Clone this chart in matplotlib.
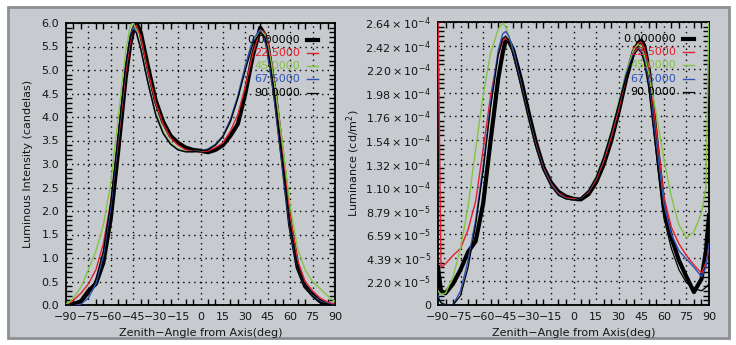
import numpy as np
import matplotlib.pyplot as plt
from matplotlib.patches import Rectangle
from matplotlib.ticker import MultipleLocator, FixedLocator

# angles (deg) shared by all series
ang = [-90, -88, -85, -80, -75, -70, -65, -60, -55, -50, -47, -45, -43, -40, -35, -30, -25,
       -20, -15, -10, -5, 0, 5, 10, 15, 20, 25, 30, 35, 40, 43, 45, 47, 50, 55, 60, 65, 70,
       75, 80, 85, 88, 90]

labels = ['0.000000', '22.5000', '45.0000', '67.5000', '90.0000']
colors = ['#000000', '#e3202c', '#84c444', '#2d52b8', '#000000']
widths = [3.0, 1.0, 1.0, 1.0, 0.9]

# luminous intensity (candelas)
li_0 = [0.0, 0.0, 0.02, 0.08, 0.3, 0.45, 0.9, 1.85, 3.3, 4.85, 5.55, 5.85, 6.0, 5.8, 5.05, 4.35, 3.9,
        3.6, 3.45, 3.35, 3.3, 3.28, 3.25, 3.3, 3.4, 3.6, 3.85, 4.5, 5.3, 5.9, 5.75, 5.5, 5.1, 4.45,
        3.1, 1.7, 0.8, 0.4, 0.22, 0.08, 0.02, 0.0, 0.0]
li_22 = [0.02, 0.04, 0.1, 0.25, 0.45, 0.75, 1.3, 2.2, 3.5, 4.95, 5.6, 5.9, 5.95, 5.7, 4.95, 4.3, 3.85,
         3.55, 3.4, 3.3, 3.27, 3.26, 3.28, 3.35, 3.45, 3.7, 4.05, 4.65, 5.35, 5.85, 5.8, 5.6, 5.25, 4.6,
         3.3, 1.9, 0.95, 0.5, 0.3, 0.15, 0.06, 0.03, 0.02]
li_45 = [0.03, 0.05, 0.15, 0.38, 0.75, 1.15, 1.7, 2.6, 4.0, 5.4, 5.95, 6.0, 5.85, 5.5, 4.75, 4.1, 3.7,
         3.45, 3.32, 3.27, 3.26, 3.28, 3.32, 3.42, 3.6, 3.9, 4.4, 5.05, 5.6, 5.85, 5.75, 5.5, 5.2, 4.6,
         3.4, 2.1, 1.2, 0.75, 0.5, 0.35, 0.2, 0.12, 0.08]
li_67 = [0.0, 0.0, 0.0, 0.02, 0.15, 0.45, 1.05, 2.1, 3.6, 5.1, 5.75, 5.9, 5.8, 5.45, 4.7, 4.05, 3.65,
         3.42, 3.3, 3.26, 3.26, 3.28, 3.32, 3.42, 3.6, 3.95, 4.45, 5.1, 5.65, 5.85, 5.65, 5.35, 4.95, 4.25,
         2.9, 1.6, 0.8, 0.4, 0.2, 0.08, 0.03, 0.01, 0.0]
li_90 = [0.0, 0.0, 0.01, 0.05, 0.22, 0.55, 1.15, 2.2, 3.65, 5.1, 5.7, 5.85, 5.8, 5.45, 4.7, 4.05, 3.65,
         3.42, 3.3, 3.26, 3.26, 3.28, 3.3, 3.4, 3.58, 3.9, 4.4, 5.0, 5.55, 5.8, 5.7, 5.45, 5.05, 4.35,
         3.0, 1.65, 0.8, 0.4, 0.18, 0.06, 0.02, 0.0, 0.0]

# luminance, in units of 2.2e-5 cd/m^2
lu_0 = [1.6, 0.6, 0.5, 0.9, 1.5, 2.25, 2.7, 4.3, 7.0, 9.6, 10.7, 11.25, 11.2, 10.8, 9.6, 8.2, 6.9,
        5.85, 5.2, 4.8, 4.6, 4.5, 4.48, 4.7, 5.2, 5.95, 6.95, 8.2, 9.6, 10.75, 11.1, 11.2, 11.0, 10.0,
        7.0, 4.1, 2.85, 1.9, 1.2, 0.55, 1.1, 2.3, 3.8]
lu_22 = [12.5, 1.6, 1.75, 2.1, 2.4, 3.2, 4.4, 6.6, 8.9, 10.6, 11.2, 11.3, 11.2, 10.7, 9.4, 8.0, 6.8,
         5.8, 5.15, 4.75, 4.55, 4.5, 4.55, 4.8, 5.3, 6.1, 7.1, 8.3, 9.7, 10.8, 11.1, 11.15, 10.9, 10.1,
         7.4, 4.6, 3.3, 2.6, 2.1, 1.7, 1.35, 1.8, 2.4]
lu_45 = [0.6, 0.45, 0.5, 1.2, 2.4, 4.2, 6.6, 8.9, 10.7, 11.7, 11.95, 11.8, 11.4, 10.7, 9.3, 7.9, 6.7,
         5.7, 5.05, 4.65, 4.5, 4.45, 4.55, 4.85, 5.45, 6.3, 7.35, 8.6, 9.9, 10.85, 11.05, 10.95, 10.6, 9.8,
         8.1, 6.2, 4.6, 3.4, 2.85, 3.1, 3.9, 5.0, 12.5]
lu_67 = [0.4, 0.1, 0.0, 0.0, 0.6, 1.9, 3.6, 5.9, 8.6, 10.8, 11.5, 11.6, 11.4, 10.8, 9.4, 8.0, 6.75,
         5.75, 5.1, 4.7, 4.5, 4.45, 4.55, 4.85, 5.4, 6.25, 7.3, 8.5, 9.8, 10.7, 10.9, 10.8, 10.4, 9.4,
         6.8, 4.3, 3.0, 2.3, 1.95, 1.6, 1.2, 1.6, 2.6]
lu_90 = [0.3, 0.1, 0.0, 0.0, 0.4, 1.6, 3.4, 5.7, 8.4, 10.6, 11.3, 11.4, 11.2, 10.6, 9.3, 7.95, 6.7,
         5.7, 5.05, 4.65, 4.5, 4.45, 4.55, 4.85, 5.4, 6.25, 7.3, 8.5, 9.7, 10.6, 10.85, 10.7, 10.3, 9.2,
         6.4, 3.7, 2.4, 1.5, 0.95, 0.7, 0.6, 0.75, 0.9]
lu_unit = 2.2e-5

lum_ticks = ['0'] + [r'$%s\times10^{-5}$' % s for s in ['2.20', '4.39', '6.59', '8.79']] + \
            [r'$%s\times10^{-4}$' % s for s in ['1.10', '1.32', '1.54', '1.76', '1.98', '2.20', '2.42', '2.64']]

bg = '#c7cbcf'
txt = '#151515'
plt.rcParams['font.family'] = ['DejaVu Sans']
plt.rcParams['font.size'] = 8

fig = plt.figure(figsize=(7.36, 3.45), dpi=100, facecolor='white')
frame = Rectangle((8/736, 1-338/345), 721/736, 331/345, transform=fig.transFigure,
                  facecolor=bg, edgecolor='#8c8f93', linewidth=2, zorder=-10)
fig.add_artist(frame)

ax1 = fig.add_axes([66/736, 1-305/345, 269/736, 282/345])
ax2 = fig.add_axes([438/736, 1-305/345, 271/736, 283/345])

def style(ax):
    ax.set_facecolor(bg)
    ax.set_xlim(-90, 90)
    ax.xaxis.set_major_locator(MultipleLocator(15))
    ax.xaxis.set_minor_locator(MultipleLocator(5))
    ax.grid(True, which='major', color='black', linestyle=(0, (1, 3)), linewidth=1)
    ax.tick_params(which='both', direction='in', top=True, right=True, colors='black',
                   labelcolor=txt, labelsize=8)
    ax.tick_params(which='major', length=0, pad=5)
    ax.tick_params(which='minor', length=4, width=1)
    for s in ax.spines.values():
        s.set_linewidth(1.3)
    ax.set_xlabel('Zenith\u2212Angle from Axis(deg)', color=txt, fontsize=8)
    ax.xaxis.set_label_coords(0.5, -0.082)

def legend(ax, x_txt, x0, x1):
    ys = [0.94, 0.894, 0.847, 0.800, 0.753]
    for lab, c, w, y in zip(labels, colors, widths, ys):
        ax.text(x_txt, y, lab, transform=ax.transAxes, ha='right', va='center',
                color=c, fontsize=8, zorder=5)
        ax.plot([x0, x1], [y, y], transform=ax.transAxes, color=c, lw=w, zorder=5)

style(ax1)
for y, c, w in zip([li_0, li_22, li_45, li_67, li_90], colors, widths):
    ax1.plot(ang, y, color=c, lw=w, zorder=3)
ax1.set_ylim(0, 6.0)
ax1.yaxis.set_major_locator(MultipleLocator(0.5))
ax1.yaxis.set_minor_locator(MultipleLocator(0.1))
ax1.yaxis.set_major_formatter(plt.FormatStrFormatter('%.1f'))
ax1.set_ylabel('Luminous Intensity (candelas)', color=txt, fontsize=8)
ax1.yaxis.set_label_coords(-0.123, 0.5)
legend(ax1, 0.87, 0.896, 0.937)

style(ax2)
for y, c, w in zip([lu_0, lu_22, lu_45, lu_67, lu_90], colors, widths):
    ax2.plot(ang, np.array(y) * lu_unit, color=c, lw=w, zorder=3)
ax2.set_ylim(0, 12 * lu_unit)
ax2.yaxis.set_major_locator(FixedLocator([i * lu_unit for i in range(13)]))
ax2.yaxis.set_minor_locator(MultipleLocator(lu_unit / 5))
ax2.set_yticklabels(lum_ticks)
ax2.set_ylabel('Luminance (cd/m$^2$)', color=txt, fontsize=8)
ax2.yaxis.set_label_coords(-0.28, 0.5)
legend(ax2, 0.878, 0.904, 0.945)

fig.savefig('out.png', dpi=100, facecolor='white')
